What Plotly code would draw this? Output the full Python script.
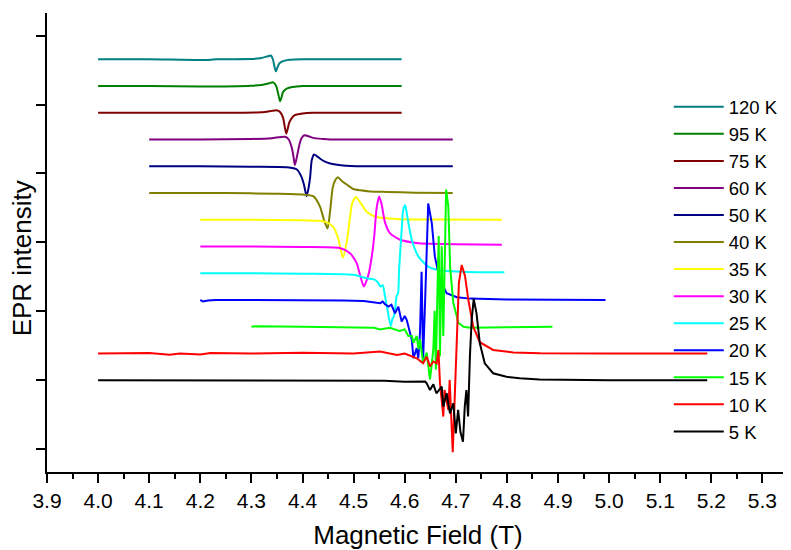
import plotly.graph_objects as go

# ---- data (field in T, signal in stacking units) ----
labels = ["120 K", "95 K", "75 K", "60 K", "50 K", "40 K", "35 K",
          "30 K", "25 K", "20 K", "15 K", "10 K", "5 K"]
colors = ["#008080", "#008000", "#800000", "#800080", "#000080", "#808000",
          "#FFFF00", "#FF00FF", "#00FFFF", "#0000FF", "#00FF00", "#FF0000",
          "#000000"]
offsets = [12, 11, 10, 9, 8, 7, 6, 5, 4, 3, 2, 1, 0]

k120 = [(4.000, 0), (4.100, 0), (4.210, -0.03), (4.230, 0), (4.300, 0.01),
        (4.317, 0.04), (4.330, 0.10), (4.338, 0.14), (4.342, 0.00),
        (4.346, -0.35), (4.348, -0.45), (4.351, -0.30), (4.355, -0.15),
        (4.362, -0.07), (4.375, -0.02), (4.400, 0), (4.500, 0), (4.594, 0)]
k95 = [(4.000, 0), (4.100, 0), (4.200, -0.02), (4.300, 0.01), (4.320, 0.04),
       (4.335, 0.10), (4.342, 0.14), (4.348, 0.02), (4.352, -0.25),
       (4.356, -0.57), (4.359, -0.42), (4.362, -0.22), (4.370, -0.09),
       (4.380, -0.04), (4.400, 0), (4.500, 0), (4.594, 0)]
k75 = [(4.000, 0), (4.200, 0), (4.320, 0.02), (4.340, 0.07), (4.349, 0.09),
       (4.356, 0.03), (4.362, -0.19), (4.368, -0.78), (4.371, -0.60),
       (4.374, -0.37), (4.380, -0.17), (4.385, -0.09), (4.400, -0.03),
       (4.420, 0), (4.500, 0), (4.594, 0)]
k60 = [(4.100, 0), (4.200, 0), (4.300, 0.02), (4.340, 0.05), (4.366, 0.10),
       (4.373, 0.00), (4.379, -0.31), (4.382, -0.60), (4.385, -0.96),
       (4.389, -0.65), (4.394, -0.19), (4.398, 0.05), (4.404, 0.16),
       (4.412, 0.12), (4.421, 0.06), (4.440, 0.02), (4.454, 0), (4.550, 0),
       (4.694, 0)]
k50 = [(4.100, 0), (4.200, 0), (4.300, -0.02), (4.370, -0.04), (4.389, -0.12),
       (4.398, -0.40), (4.403, -0.70), (4.408, -1.12), (4.412, -0.80),
       (4.415, -0.40), (4.418, 0.22), (4.4225, 0.44), (4.428, 0.38),
       (4.434, 0.29), (4.444, 0.17), (4.454, 0.10), (4.479, 0.03),
       (4.520, 0), (4.600, 0), (4.694, 0)]
k40 = [(4.100, 0), (4.250, 0), (4.350, -0.03), (4.400, -0.06), (4.421, -0.12),
       (4.434, -0.50), (4.442, -1.00), (4.449, -1.33), (4.454, -0.68),
       (4.459, 0.19), (4.464, 0.48), (4.469, 0.59), (4.477, 0.45),
       (4.487, 0.31), (4.499, 0.15), (4.513, 0.10), (4.532, 0.06),
       (4.565, 0.04), (4.620, 0.01), (4.694, 0)]
k35 = [(4.200, 0), (4.300, 0), (4.400, -0.02), (4.430, -0.04), (4.447, -0.09),
       (4.460, -0.27), (4.470, -0.71), (4.479, -1.42), (4.487, -0.77),
       (4.493, 0.10), (4.497, 0.60), (4.504, 0.85), (4.5125, 0.66),
       (4.526, 0.29), (4.545, 0.10), (4.584, 0.03), (4.650, 0.01), (4.790, 0)]
k30 = [(4.200, 0), (4.300, 0), (4.400, -0.02), (4.473, -0.06), (4.493, -0.25),
       (4.506, -0.62), (4.5125, -1.06), (4.520, -1.50), (4.529, -1.06),
       (4.535, -0.44), (4.540, 0.31), (4.545, 1.43), (4.550, 1.87),
       (4.555, 1.56), (4.561, 0.93), (4.571, 0.50), (4.591, 0.25),
       (4.623, 0.13), (4.650, 0.10), (4.700, 0.08), (4.790, 0.06)]
k25 = [(4.200, 0), (4.300, 0), (4.400, -0.02), (4.499, -0.06), (4.526, -0.19),
       (4.542, -0.25), (4.548, -0.35), (4.552, -0.50), (4.557, -0.45),
       (4.561, -0.81), (4.565, -1.23), (4.5726, -1.98), (4.576, -1.70),
       (4.579, -1.61), (4.582, -1.20), (4.584, -0.86), (4.587, -0.75),
       (4.589, 0.12), (4.594, 1.61), (4.597, 2.36), (4.601, 2.54),
       (4.605, 2.12), (4.614, 1.23), (4.627, 0.62), (4.646, 0.25),
       (4.676, 0.09), (4.720, 0.05), (4.795, 0.04)]
k20 = [(4.200, 0), (4.205, -0.06), (4.215, -0.02), (4.230, 0), (4.300, 0),
       (4.400, 0), (4.480, -0.02), (4.520, -0.04), (4.552, -0.12),
       (4.557, -0.06), (4.561, -0.15), (4.568, -0.25), (4.574, -0.18),
       (4.581, -0.50), (4.5875, -0.25), (4.594, -0.81), (4.600, -0.60),
       (4.604, -0.75), (4.607, -1.00), (4.614, -1.50), (4.617, -2.18),
       (4.6235, -1.80), (4.6266, -2.18), (4.630, -1.20), (4.633, 1.05),
       (4.636, -2.24), (4.640, 0.00), (4.646, 3.61), (4.653, 2.87),
       (4.659, 1.62), (4.669, 0.75), (4.682, 0.25), (4.702, 0.10),
       (4.728, 0.05), (4.800, 0.02), (4.993, 0)]
k15 = [(4.300, 0), (4.310, 0.02), (4.400, 0), (4.500, -0.02), (4.540, -0.04),
       (4.552, -0.10), (4.571, -0.04), (4.590, -0.16), (4.600, -0.10),
       (4.607, -0.35), (4.614, -0.35), (4.617, -0.60), (4.6235, -0.35),
       (4.627, -0.85), (4.630, -0.47), (4.636, -1.35), (4.643, -0.97),
       (4.6495, -1.97), (4.656, -0.85), (4.6585, 0.60), (4.661, -1.60),
       (4.6638, 1.14), (4.6665, 3.39), (4.669, -1.10), (4.6724, 3.01),
       (4.6755, -0.35), (4.681, 5.13), (4.6853, 4.51), (4.689, 2.20),
       (4.695, 0.90), (4.705, 0.15), (4.715, 0.00), (4.728, -0.04),
       (4.800, -0.02), (4.889, 0)]
k10 = [(4.000, 0), (4.100, 0.02), (4.140, -0.05), (4.160, 0.00), (4.200, -0.04),
       (4.220, 0.02), (4.300, 0), (4.400, 0.03), (4.500, 0), (4.552, 0.07),
       (4.585, -0.06), (4.600, 0), (4.6235, -0.18), (4.636, -0.37),
       (4.643, -0.12), (4.6495, -0.49), (4.656, -0.30), (4.6626, -0.37),
       (4.666, 0.13), (4.669, -1.11), (4.6755, -2.36), (4.678, -1.36),
       (4.6853, -2.11), (4.688, -0.99), (4.694, -3.69), (4.698, -1.74),
       (4.7015, 0.63), (4.706, 2.63), (4.7115, 3.31), (4.718, 2.90),
       (4.7245, 2.00), (4.734, 1.00), (4.747, 0.42), (4.773, 0.13),
       (4.8125, 0.04), (4.865, 0.01), (5.000, 0), (5.192, 0)]
k5 = [(4.000, 0), (4.300, 0), (4.500, 0), (4.560, -0.02), (4.600, -0.06),
      (4.640, -0.05), (4.643, -0.12), (4.6495, -0.37), (4.656, -0.15),
      (4.662, -0.49), (4.6724, -0.24), (4.6755, -0.99), (4.682, -0.49),
      (4.6886, -1.24), (4.6951, -0.86), (4.700, -1.99), (4.7045, -1.11),
      (4.709, -1.93), (4.714, -2.30), (4.7175, -0.99), (4.7207, -0.37),
      (4.724, -1.36), (4.7276, 0.90), (4.731, 2.25), (4.735, 3.04),
      (4.7405, 2.50), (4.747, 1.38), (4.7566, 0.63), (4.773, 0.26),
      (4.799, 0.13), (4.825, 0.07), (4.864, 0.03), (5.000, 0), (5.192, 0)]

spectra = [k120, k95, k75, k60, k50, k40, k35, k30, k25, k20, k15, k10, k5]
noisy = {"20 K", "15 K", "10 K", "5 K"}

FONT = "Liberation Sans, Arial, sans-serif"

fig = go.Figure()
for name, col, off, pts in zip(labels, colors, offsets, spectra):
    xs = [p[0] for p in pts]
    ys = [p[1] + off for p in pts]
    if name in noisy:
        line = dict(color=col, width=2)
    else:
        line = dict(color=col, width=2, shape="spline", smoothing=0.6)
    fig.add_trace(go.Scatter(x=xs, y=ys, mode="lines", name=name, line=line))

# the page body adds an 8 px margin, so the figure is sized/offset for it
fig.update_layout(
    width=783, height=542,
    margin=dict(l=39, r=2, t=5, b=78, autoexpand=False),
    paper_bgcolor="white", plot_bgcolor="white",
    font=dict(family=FONT, color="black"),
    showlegend=True,
    legend=dict(x=0.838, y=0.836, xanchor="left", yanchor="top",
                font=dict(family=FONT, size=18.5, color="black"),
                bgcolor="rgba(0,0,0,0)", borderwidth=0,
                itemwidth=50),
    xaxis=dict(range=[3.9, 5.352], tick0=3.9, dtick=0.1, tickformat=".1f",
               ticks="outside", ticklen=9, tickwidth=1.5, tickcolor="black",
               showline=True, linecolor="black", linewidth=1.5,
               showgrid=False, zeroline=False, automargin=False,
               tickfont=dict(family=FONT, size=21, color="black"),
               minor=dict(dtick=0.05, ticks="outside", ticklen=5,
                          tickwidth=1.5, tickcolor="black", showgrid=False),
               title=dict(text="Magnetic Field (T)",
                          font=dict(family=FONT, size=26, color="black"),
                          standoff=19)),
    yaxis=dict(range=[-3.433, 13.73], tick0=0, dtick=2.577,
               showticklabels=False, ticks="outside", ticklen=9,
               tickwidth=1.5, tickcolor="black",
               showline=True, linecolor="black", linewidth=1.5,
               showgrid=False, zeroline=False, automargin=False),
    annotations=[dict(text="EPR intensity", textangle=-90,
                      xref="paper", yref="paper", x=-0.034, y=0.465,
                      xanchor="center", yanchor="middle", showarrow=False,
                      font=dict(family=FONT, size=26, color="black"))],
)

fig.write_html("out.html")
